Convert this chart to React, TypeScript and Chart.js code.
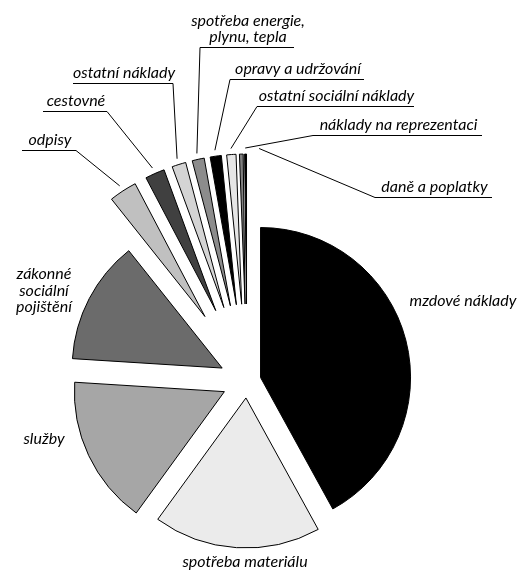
// Exploded pie of cost structure (nákladová struktura), drawn with Chart.js.
// Slices are pulled out by a small plugin so the radius stays fixed; labels
// and leader lines are drawn by a second plugin after the arcs.

import { useEffect, useRef } from 'react';
import { Chart, registerables } from 'chart.js';
import type { ChartConfiguration, Plugin } from 'chart.js';

Chart.register(...registerables);

const LABELS = [
  'mzdové náklady',
  'spotřeba materiálu',
  'služby',
  'zákonné\nsociální\npojištění',
  'odpisy',
  'cestovné',
  'ostatní náklady',
  'spotřeba energie,\nplynu, tepla',
  'opravy a udržování',
  'ostatní sociální náklady',
  'náklady na reprezentaci',
  'daně a poplatky',
];

// shares in %
const VALUES = [42.0, 18.0, 16.0, 13.3, 3.0, 2.1, 1.5, 1.3, 1.2, 1.0, 0.4, 0.2];

const COLORS = [
  '#000000', '#ebebeb', '#a6a6a6', '#6b6b6b', '#c0c0c0', '#404040',
  '#d4d4d4', '#8c8c8c', '#000000', '#e6e6e6', '#808080', '#000000',
];

// how far each slice is pulled out from the centre (px)
const EXPLODE = [14, 17, 25, 28, 77, 77, 77, 77, 77, 77, 77, 77];

const FONT = 'italic 16px Lato';
const LINE_H = 16.5;
const LEADER_GAP = 6;

// free labels: centred at cx, first baseline y.
// leader labels: underline x1..x2 at y, leader joins at 'left' or 'right' end.
type Free = { kind: 'free'; cx: number; y: number };
type Lead = { kind: 'lead'; x1: number; x2: number; y: number; join: 'left' | 'right'; nudge?: number };
const LABEL_LAYOUT: Array<Free | Lead> = [
  { kind: 'free', cx: 463, y: 306 },
  { kind: 'free', cx: 245, y: 567 },
  { kind: 'free', cx: 44, y: 444 },
  { kind: 'free', cx: 44, y: 279 },
  { kind: 'lead', x1: 22, x2: 76, y: 150, join: 'right' },
  { kind: 'lead', x1: 43, x2: 107, y: 111, join: 'right' },
  { kind: 'lead', x1: 73, x2: 173, y: 83, join: 'right' },
  { kind: 'lead', x1: 200, x2: 294, y: 47, join: 'left' },
  { kind: 'lead', x1: 230, x2: 364, y: 79, join: 'left' },
  { kind: 'lead', x1: 257, x2: 414, y: 106, join: 'left' },
  { kind: 'lead', x1: 313, x2: 482, y: 135, join: 'left', nudge: 1.5 },
  { kind: 'lead', x1: 375, x2: 492, y: 197, join: 'left', nudge: 5 },
];

const explodePlugin: Plugin<'pie'> = {
  id: 'explode',
  beforeDatasetDraw(chart, args) {
    const { ctx } = chart;
    args.meta.data.forEach((arc: any, i: number) => {
      const { startAngle, endAngle } = arc.getProps(['startAngle', 'endAngle'], true);
      const mid = (startAngle + endAngle) / 2;
      const d = EXPLODE[i] || 0;
      ctx.save();
      ctx.translate(Math.cos(mid) * d, Math.sin(mid) * d);
      arc.draw(ctx);
      ctx.restore();
    });
    return false;
  },
};

const labelPlugin: Plugin<'pie'> = {
  id: 'sliceLabels',
  afterDatasetsDraw(chart) {
    const { ctx } = chart;
    const arcs = chart.getDatasetMeta(0).data as any[];
    ctx.save();
    ctx.font = FONT;
    ctx.fillStyle = '#000';
    ctx.strokeStyle = '#000';
    ctx.lineWidth = 1;
    ctx.textAlign = 'center';
    ctx.textBaseline = 'alphabetic';

    LABELS.forEach((label, i) => {
      const lay = LABEL_LAYOUT[i];
      const lines = label.split('\n');
      if (lay.kind === 'free') {
        lines.forEach((ln, k) => ctx.fillText(ln, lay.cx, lay.y + k * LINE_H));
        return;
      }
      const cx = (lay.x1 + lay.x2) / 2 + 1;
      const base = lay.y - 5;
      lines.forEach((ln, k) => ctx.fillText(ln, cx, base - (lines.length - 1 - k) * LINE_H));

      const uy = Math.round(lay.y) + 0.5;
      ctx.beginPath();
      ctx.moveTo(lay.x1, uy);
      ctx.lineTo(lay.x2, uy);
      ctx.stroke();

      const arc = arcs[i];
      const { x, y, startAngle, endAngle, outerRadius } = arc.getProps(
        ['x', 'y', 'startAngle', 'endAngle', 'outerRadius'],
        true
      );
      const mid = (startAngle + endAngle) / 2;
      const ex = x + Math.cos(mid) * EXPLODE[i];
      const ey = y + Math.sin(mid) * EXPLODE[i];
      const a = mid + ((lay.nudge || 0) * Math.PI) / 180;
      const ax = ex + Math.cos(a) * (outerRadius + LEADER_GAP);
      const ay = ey + Math.sin(a) * (outerRadius + LEADER_GAP);
      const jx = lay.join === 'left' ? lay.x1 : lay.x2;
      ctx.beginPath();
      ctx.moveTo(ax, ay);
      ctx.lineTo(jx, uy);
      ctx.stroke();
    });
    ctx.restore();
  },
};

export default function App() {
  const canvasRef = useRef<HTMLCanvasElement>(null);

  useEffect(() => {
    const canvas = canvasRef.current;
    if (!canvas) return;
    const config: ChartConfiguration<'pie'> = {
      type: 'pie',
      data: {
        labels: LABELS,
        datasets: [
          {
            data: VALUES,
            backgroundColor: COLORS,
            borderColor: '#000',
            borderWidth: 1,
            borderJoinStyle: 'miter',
            radius: 150,
            clip: false as any,
          },
        ],
      },
      options: {
        responsive: false,
        animation: false,
        events: [],
        layout: { padding: { left: 0, right: 29, top: 191, bottom: 0 } },
        plugins: {
          legend: { display: false },
          tooltip: { enabled: false },
        },
      },
      plugins: [explodePlugin, labelPlugin],
    };
    const chart = new Chart(canvas, config);
    return () => chart.destroy();
  }, []);

  return (
    <div style={{ position: 'absolute', left: 0, top: 0, width: 523, height: 571, background: '#fff' }}>
      <canvas ref={canvasRef} width={523} height={571} style={{ display: 'block' }} />
    </div>
  );
}
